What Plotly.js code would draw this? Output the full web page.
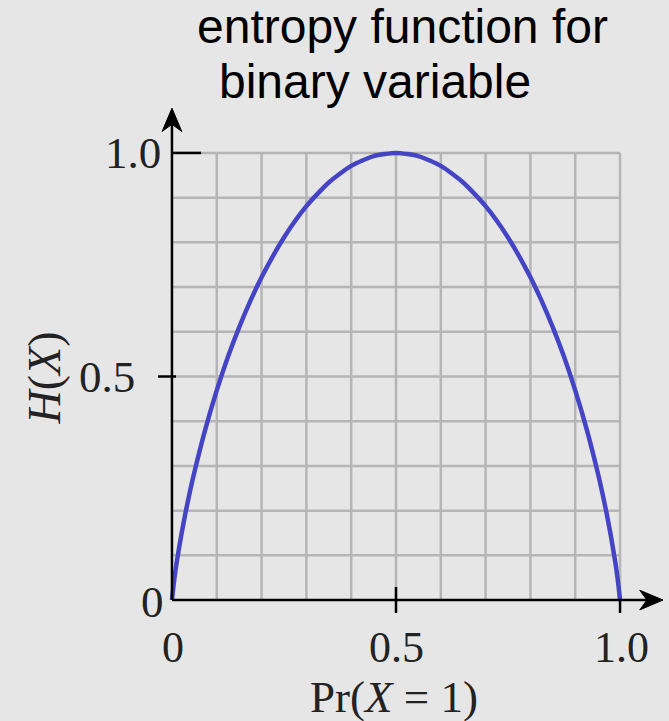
<!DOCTYPE html>
<html>
<head>
<meta charset="utf-8">
<script src="https://cdn.plot.ly/plotly-3.0.1.min.js"></script>
<style>html,body{margin:0;padding:0;background:#e6e6e6;}#chart{width:669px;height:721px;}</style>
</head>
<body>
<div id="chart"></div>
<script>
// ---- data ----
var prX1 = [0, 0.005, 0.01, 0.02, 0.03, 0.04, 0.05, 0.075, 0.1, 0.125, 0.15, 0.175, 0.2, 0.25, 0.3, 0.35, 0.4, 0.45, 0.5,
            0.55, 0.6, 0.65, 0.7, 0.75, 0.8, 0.825, 0.85, 0.875, 0.9, 0.925, 0.95, 0.96, 0.97, 0.98, 0.99, 0.995, 1];
var entropyH = [0, 0.045, 0.081, 0.141, 0.194, 0.242, 0.286, 0.384, 0.469, 0.544, 0.610, 0.669, 0.722, 0.811, 0.881, 0.934, 0.971, 0.993, 1.0,
                0.993, 0.971, 0.934, 0.881, 0.811, 0.722, 0.669, 0.610, 0.544, 0.469, 0.384, 0.286, 0.242, 0.194, 0.141, 0.081, 0.045, 0];
var xTickVals = [0, 0.5, 1.0];
var xTickText = ["0", "0.5", "1.0"];
var yTickVals = [1.0, 0.5, 0];
var yTickText = ["1.0", "0.5", "0"];
var titleLines = ["entropy function for", "binary variable"];
var xTitle = "Pr(<i>X</i> = 1)";
var yTitle = "<i>H</i>(<i>X</i>)";

// ---- layout geometry ----
var W = 669, Hh = 721;
var r0 = -0.02, r1 = 1.02;
var ppx = 448, ppy = 447;
var L = 172 + r0 * ppx;
var PW = (r1 - r0) * ppx;
var R = W - L - PW;
var T = 153 - (r1 - 1) * ppy;
var PH = (r1 - r0) * ppy;
var B = Hh - T - PH;
function pd(v) { return (v - r0) / (r1 - r0); }          // data -> paper
function pxX(px) { return (px - L) / PW; }
function pxY(py) { return (T + PH - py) / PH; }

var serif = "Liberation Serif, Times New Roman, serif";
var sans = "Liberation Sans, Arial, sans-serif";

var shapes = [];
function seg(x0, y0, x1, y1, w, color, layer) {
  shapes.push({type: 'line', xref: 'paper', yref: 'paper', x0: pd(x0), y0: pd(y0), x1: pd(x1), y1: pd(y1),
               line: {color: color || '#000', width: w || 2.5}, layer: layer || 'above'});
}
// grid (every 0.1 inside the unit square)
for (var k = 1; k <= 10; k++) {
  var g = k / 10;
  seg(g, 0, g, 1, 2.5, '#b5b5b5', 'below');
  seg(0, g, 1, g, 2.5, '#b5b5b5', 'below');
}
// axes
var xTip = 1.096, yTip = 1.10;
seg(0, 0, xTip - 0.03, 0);
seg(0, 0, 0, yTip - 0.03);
function arrowPath(pts) {
  var s = '';
  pts.forEach(function (p, i) { s += (i ? ' L ' : 'M ') + pd(p[0]) + ' ' + pd(p[1]); });
  return s + ' Z';
}
shapes.push({type: 'path', xref: 'paper', yref: 'paper', layer: 'above', line: {color: '#000', width: 1}, fillcolor: '#000',
  path: arrowPath([[xTip, 0], [xTip - 0.052, 0.022], [xTip - 0.036, 0], [xTip - 0.052, -0.022]])});
shapes.push({type: 'path', xref: 'paper', yref: 'paper', layer: 'above', line: {color: '#000', width: 1}, fillcolor: '#000',
  path: arrowPath([[0, yTip], [-0.022, yTip - 0.052], [0, yTip - 0.036], [0.022, yTip - 0.052]])});
// tick marks
seg(0, 1.0, 0.065, 1.0);
seg(-0.031, 0.5, 0.009, 0.5);
seg(0.5, 0.029, 0.5, -0.029);
seg(1.0, 0.0, 1.0, -0.029);

var annotations = [];
var yShift = [-9, -35, -6];
yTickVals.forEach(function (v, i) {
  annotations.push({x: 0, y: v, xref: 'x', yref: 'y', text: yTickText[i], showarrow: false,
    xanchor: 'right', yanchor: 'middle', xshift: yShift[i], yshift: (v === 0 ? -2 : 0),
    font: {family: serif, size: 45, color: '#222'}});
});
xTickVals.forEach(function (v, i) {
  annotations.push({x: v, y: 0, xref: 'x', yref: 'y', text: xTickText[i], showarrow: false,
    xanchor: 'center', yanchor: 'middle', yshift: -47, xshift: (v === 0.5 ? 0 : 1),
    font: {family: serif, size: 44, color: '#222'}});
});
annotations.push({x: 0.5, y: 0, xref: 'x', yref: 'y', text: xTitle, showarrow: false,
  xanchor: 'center', yanchor: 'middle', yshift: -97, xshift: -2, font: {family: serif, size: 45, color: '#222'}});
annotations.push({x: 0, y: 0.5, xref: 'x', yref: 'y', text: yTitle, showarrow: false, textangle: -90,
  xanchor: 'center', yanchor: 'middle', xshift: -127, yshift: -1, font: {family: serif, size: 46, color: '#222'}});
annotations.push({x: pxX(195), y: pxY(27), xref: 'paper', yref: 'paper', text: titleLines[0], showarrow: false,
  xanchor: 'left', yanchor: 'middle', font: {family: sans, size: 48, color: '#000'}});
annotations.push({x: pxX(217), y: pxY(82), xref: 'paper', yref: 'paper', text: titleLines[1], showarrow: false,
  xanchor: 'left', yanchor: 'middle', font: {family: sans, size: 48, color: '#000'}});

var trace = {x: prX1, y: entropyH, mode: 'lines', type: 'scatter',
  line: {color: '#4444c4', width: 4.5, shape: 'spline', smoothing: 0.6},
  cliponaxis: false, hoverinfo: 'skip'};

var axisCommon = {range: [r0, r1], showgrid: false, zeroline: false, showline: false, showticklabels: false,
  ticks: '', fixedrange: true};

var layout = {
  width: W, height: Hh,
  margin: {l: L, r: R, t: T, b: B, pad: 0, autoexpand: false},
  paper_bgcolor: '#e6e6e6', plot_bgcolor: 'rgba(0,0,0,0)',
  showlegend: false,
  xaxis: Object.assign({}, axisCommon),
  yaxis: Object.assign({}, axisCommon),
  shapes: shapes,
  annotations: annotations
};

Plotly.newPlot('chart', [trace], layout, {displayModeBar: false, staticPlot: true});
</script>
</body>
</html>
